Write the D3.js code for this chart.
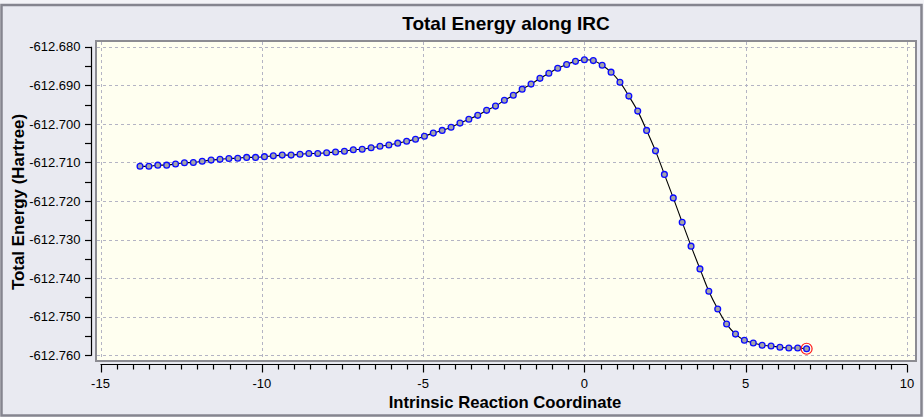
<!DOCTYPE html>
<html>
<head>
<meta charset="utf-8">
<script src="https://cdn.jsdelivr.net/npm/d3@7"></script>
<style>
  html, body { margin: 0; padding: 0; background: #f2f2f6; }
  svg { display: block; font-family: "Liberation Sans", Arial, sans-serif; }
</style>
</head>
<body>
<svg id="chart" width="924" height="417"></svg>
<script>
// ---- data ----
const title = "Total Energy along IRC";
const xLabel = "Intrinsic Reaction Coordinate";
const yLabel = "Total Energy (Hartree)";

const ircX = [
  -13.775, -13.500, -13.224, -12.949, -12.673, -12.398, -12.122, -11.847, -11.571, -11.296,
  -11.020, -10.745, -10.469, -10.194, -9.918, -9.643, -9.367, -9.092, -8.816, -8.541,
  -8.265, -7.990, -7.714, -7.439, -7.163, -6.888, -6.612, -6.337, -6.061, -5.786,
  -5.510, -5.235, -4.959, -4.684, -4.408, -4.133, -3.857, -3.582, -3.306, -3.031,
  -2.755, -2.480, -2.204, -1.929, -1.653, -1.378, -1.102, -0.827, -0.551, -0.276,
  0.000, 0.276, 0.551, 0.827, 1.102, 1.378, 1.653, 1.929, 2.204, 2.480,
  2.755, 3.031, 3.306, 3.582, 3.857, 4.133, 4.408, 4.684, 4.959, 5.235,
  5.510, 5.786, 6.061, 6.337, 6.612, 6.888
];
const energy = [
  -612.7110, -612.7110, -612.7107, -612.7107, -612.7104, -612.7101, -612.7100, -612.7097, -612.7094, -612.7092,
  -612.7090, -612.7089, -612.7087, -612.7087, -612.7085, -612.7083, -612.7081, -612.7081, -612.7079, -612.7077,
  -612.7077, -612.7075, -612.7073, -612.7071, -612.7067, -612.7066, -612.7062, -612.7058, -612.7055, -612.7050,
  -612.7045, -612.7040, -612.7032, -612.7024, -612.7017, -612.7009, -612.6998, -612.6988, -612.6978, -612.6965,
  -612.6954, -612.6939, -612.6926, -612.6910, -612.6897, -612.6882, -612.6869, -612.6856, -612.6846, -612.6838,
  -612.6834, -612.6836, -612.6848, -612.6866, -612.6892, -612.6928, -612.6967, -612.7017, -612.7070, -612.7131,
  -612.7192, -612.7255, -612.7317, -612.7376, -612.7434, -612.7480, -612.7519, -612.7545, -612.7561, -612.7568,
  -612.7574, -612.7576, -612.7579, -612.7581, -612.7581, -612.7583
];
const xTicks = [-15, -10, -5, 0, 5, 10];
const xTickLabels = ["-15", "-10", "-5", "0", "5", "10"];
const yTicks = [-612.680, -612.690, -612.700, -612.710, -612.720, -612.730, -612.740, -612.750, -612.760];
const yTickLabels = ["-612.680", "-612.690", "-612.700", "-612.710", "-612.720", "-612.730", "-612.740", "-612.750", "-612.760"];

// ---- drawing ----
const svg = d3.select("#chart");
const W = 924, H = 417;

const x = d3.scaleLinear().domain([-15, 10]).range([100.5, 907]);
const y = d3.scaleLinear().domain([-612.760, -612.680]).range([355.3, 46.7]);

// outer panel
svg.append("rect").attr("x", 0).attr("y", 0).attr("width", W).attr("height", H).attr("fill", "#f3f3f7");
svg.append("rect").attr("x", 1.5).attr("y", 5).attr("width", W - 4).attr("height", H - 6.5)
  .attr("fill", "#e9eaf1").attr("stroke", "#85858f").attr("stroke-width", 2.5);

// plot area
const px0 = x.range()[0] - 4.5, px1 = x.range()[1] + 9;
const py0 = y.range()[1] - 5.7, py1 = y.range()[0] + 5.7;
svg.append("rect").attr("x", px0).attr("y", py0).attr("width", px1 - px0).attr("height", py1 - py0)
  .attr("fill", "#fffff0").attr("stroke", "#8c8c92").attr("stroke-width", 2);

// gridlines
const grid = svg.append("g").attr("stroke", "#b4b4c4").attr("stroke-width", 1).attr("stroke-dasharray", "3,3");
grid.selectAll("line.v").data(xTicks).join("line").attr("class", "v")
  .attr("x1", d => Math.round(x(d)) + 0.5).attr("x2", d => Math.round(x(d)) + 0.5)
  .attr("y1", py0 + 1).attr("y2", py1 - 1);
grid.selectAll("line.h").data(yTicks).join("line").attr("class", "h")
  .attr("y1", d => Math.round(y(d)) + 0.5).attr("y2", d => Math.round(y(d)) + 0.5)
  .attr("x1", px0 + 1).attr("x2", px1 - 1);

// y axis
const yAxisG = svg.append("g").attr("transform", "translate(91.5,0)");
const yMinor = d3.range(0, 17).map(i => -612.760 + i * 0.005);
yAxisG.append("line").attr("x1", 0).attr("x2", 0).attr("y1", y(-612.680)).attr("y2", y(-612.760) + 0.5)
  .attr("stroke", "#000").attr("stroke-width", 1.2);
yAxisG.selectAll("line.t").data(yMinor).join("line").attr("class", "t")
  .attr("x1", -6.5).attr("x2", 0).attr("y1", d => Math.round(y(d)) + 0.5).attr("y2", d => Math.round(y(d)) + 0.5)
  .attr("stroke", "#000").attr("stroke-width", 1.2);
yAxisG.selectAll("text").data(yTicks).join("text")
  .attr("x", -11).attr("y", d => y(d)).attr("dy", "0.36em")
  .attr("text-anchor", "end").attr("font-size", 13).attr("fill", "#000")
  .text((d, i) => yTickLabels[i]);

// x axis
const xAxisG = svg.append("g").attr("transform", "translate(0,364.5)");
const xMinor = d3.range(0, 51).map(i => -15 + i * 0.5);
xAxisG.append("line").attr("x1", x(-15)).attr("x2", x(10)).attr("y1", 0).attr("y2", 0)
  .attr("stroke", "#000").attr("stroke-width", 1.2);
xAxisG.selectAll("line.t").data(xMinor).join("line").attr("class", "t")
  .attr("x1", d => Math.round(x(d)) + 0.5).attr("x2", d => Math.round(x(d)) + 0.5)
  .attr("y1", 0).attr("y2", d => (Math.abs(d % 5) < 1e-9 ? 8 : 5))
  .attr("stroke", "#000").attr("stroke-width", 1.2);
xAxisG.selectAll("text").data(xTicks).join("text")
  .attr("x", d => x(d)).attr("y", 23)
  .attr("text-anchor", "middle").attr("font-size", 13).attr("fill", "#000")
  .text((d, i) => xTickLabels[i]);

// titles
svg.append("text").attr("x", (px0 + px1) / 2).attr("y", 30).attr("text-anchor", "middle")
  .attr("font-size", 19).attr("font-weight", "bold").text(title);
svg.append("text").attr("x", (px0 + px1) / 2 - 1).attr("y", 407.5).attr("text-anchor", "middle")
  .attr("font-size", 16.7).attr("font-weight", "bold").text(xLabel);
svg.append("text").attr("transform", `translate(24,${(py0 + py1) / 2 + 1}) rotate(-90)`)
  .attr("text-anchor", "middle").attr("font-size", 16.9).attr("font-weight", "bold").text(yLabel);

// data
const pts = ircX.map((v, i) => [v, energy[i]]);
const line = d3.line().x(d => x(d[0])).y(d => y(d[1])).curve(d3.curveCatmullRom.alpha(0.5));
svg.append("path").datum(pts).attr("d", line).attr("fill", "none").attr("stroke", "#000").attr("stroke-width", 1.1);

svg.append("g").selectAll("circle").data(pts).join("circle")
  .attr("cx", d => x(d[0])).attr("cy", d => y(d[1])).attr("r", 2.9)
  .attr("fill", "#a4a4a8").attr("stroke", "#0a0aff").attr("stroke-width", 1.3);

const last = pts[pts.length - 1];
svg.append("circle").attr("cx", x(last[0])).attr("cy", y(last[1])).attr("r", 5.5)
  .attr("fill", "none").attr("stroke", "#ff1a1a").attr("stroke-width", 1.2);
</script>
</body>
</html>
